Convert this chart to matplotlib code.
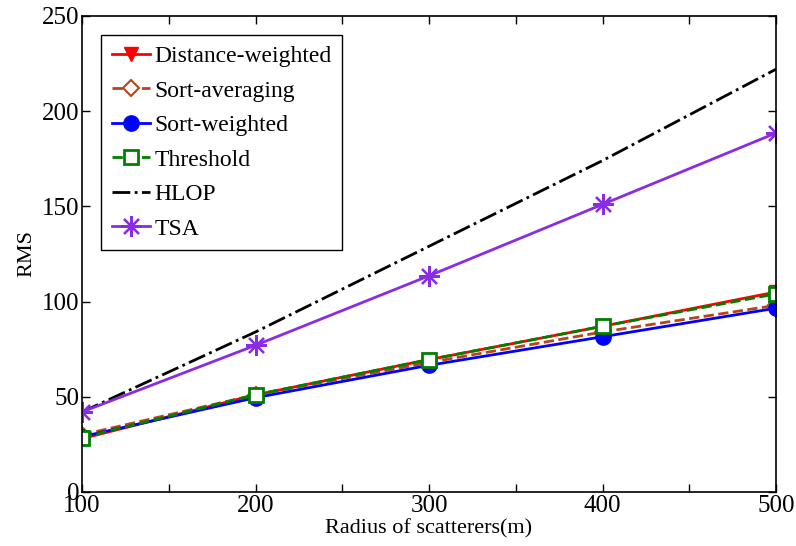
import matplotlib
matplotlib.use('Agg')
import matplotlib.pyplot as plt

plt.rcParams['font.family'] = ['Liberation Serif', 'DejaVu Serif']
plt.rcParams['font.size'] = 17

radius = [100, 200, 300, 400, 500]
distance_weighted = [28, 51, 69.5, 87, 105]
sort_averaging = [30, 51, 68, 84, 98]
sort_weighted = [29, 49.5, 66.5, 81.5, 96.5]
threshold = [28.5, 51, 69.5, 87, 104]
hlop = [42, 84, 129, 174, 222]
tsa = [42, 77, 113.5, 151, 188.5]

x_ticks = [100, 150, 200, 250, 300, 350, 400, 450, 500]
x_ticklabels = ['100', '', '200', '', '300', '', '400', '', '500']

fig = plt.figure(figsize=(7.96, 5.46), dpi=100)
ax = fig.add_axes([0.103, 0.099, 0.872, 0.872])

ax.plot(radius, distance_weighted, '-v', color='red', lw=2, ms=10, label='Distance-weighted')
ax.plot(radius, sort_averaging, '--D', color='#b5461a', lw=2, ms=8, mfc='white', mew=1.5,
        label='Sort-averaging')
ax.plot(radius, sort_weighted, '-o', color='blue', lw=2, ms=11, label='Sort-weighted')
ax.plot(radius, threshold, '--s', color='green', lw=2, ms=10, mfc='white', mew=2, label='Threshold')
ax.plot(radius, hlop, '-.', color='black', lw=2, label='HLOP')
ax.plot(radius, tsa, color='#8b2be2', lw=2, ms=15, mew=1.6, marker=(8, 2, 0), label='TSA')

ax.set_xlim(100, 500)
ax.set_ylim(0, 250)
ax.set_xticks(x_ticks)
ax.set_xticklabels(x_ticklabels)
ax.set_yticks([0, 50, 100, 150, 200, 250])
ax.tick_params(direction='in', top=True, right=True, length=6, width=1, labelsize=18, pad=2)
for s in ax.spines.values():
    s.set_linewidth(1.2)
ax.set_xlabel('Radius of scatterers(m)', fontsize=16, labelpad=2)
ax.set_ylabel('RMS', fontsize=16, labelpad=4)

leg = ax.legend(loc='upper left', bbox_to_anchor=(0.028, 0.96), fancybox=False, framealpha=1,
                edgecolor='black', handlelength=1.6, handletextpad=0.2, borderpad=0.45,
                labelspacing=0.55, borderaxespad=0, fontsize=17)
leg.get_frame().set_linewidth(1.0)

fig.savefig('out.png', dpi=100)
